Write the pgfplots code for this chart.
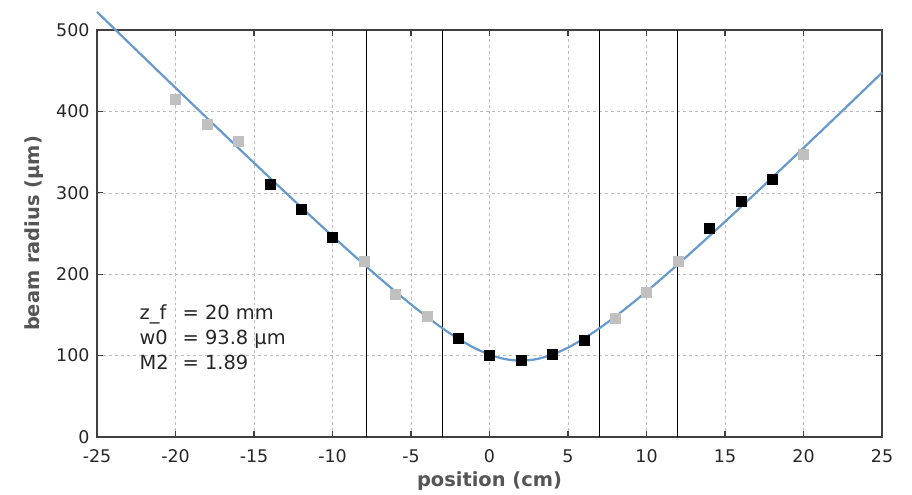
\documentclass[border=0pt]{standalone}
\usepackage{pgfplots}
\pgfplotsset{compat=1.18}
\usepackage{fontspec}
\setmainfont{DejaVu Sans}

\definecolor{fitblue}{HTML}{6699CC}
\definecolor{ptgray}{HTML}{C0C0C0}
\definecolor{gridgray}{HTML}{BBBBBB}
\definecolor{axisgray}{HTML}{404040}
\definecolor{labelgray}{HTML}{555555}

\begin{document}
\begin{tikzpicture}
  \useasboundingbox (-97bp,-58bp) rectangle (815bp,437bp);
  \begin{axis}[
    at={(0,0)}, anchor=south west,
    scale only axis,
    width=785bp, height=407bp,
    xmin=-25, xmax=25, ymin=0, ymax=500,
    xtick={-25,-20,...,25},
    ytick={0,100,...,500},
    grid=major,
    major grid style={gridgray, dashed, line width=0.6pt},
    axis line style={axisgray, line width=1.1pt},
    tick style={axisgray, line width=1.1pt},
    major tick length=6bp,
    tick align=inside,
    clip=false,
    ticklabel style={font=\fontsize{17.5}{20}\selectfont, text=black!85},
    /pgf/number format/assume math mode=true,
    xticklabel style={yshift=-9bp},
    yticklabel style={xshift=-4bp},
    xlabel={position (cm)},
    ylabel={beam radius (µm)},
    label style={font=\fontsize{19.5}{22}\bfseries\selectfont, text=labelgray},
    xlabel style={at={(axis description cs:0.5,-0.108)}, anchor=center},
    ylabel style={at={(axis description cs:-0.080,0.5)}, anchor=center},
  ]
    % measurement windows
    \addplot[black, line width=0.9pt] coordinates {(-7.85,0) (-7.85,500)};
    \addplot[black, line width=0.9pt] coordinates {(-3,0) (-3,500)};
    \addplot[black, line width=0.9pt] coordinates {(7,0) (7,500)};
    \addplot[black, line width=0.9pt] coordinates {(12,0) (12,500)};

    % points outside the windows
    \addplot[only marks, mark=square*, mark size=5bp, color=ptgray] coordinates {
      (-20,415) (-18,384) (-16,364) (-8,216) (-6,175) (-4,149)
      (8,146) (10,178) (12,216) (20,348)
    };
    % points used for the fit
    \addplot[only marks, mark=square*, mark size=5bp, color=black] coordinates {
      (-14,311) (-12,280) (-10,246) (-2,121) (0,101) (2,94) (4,102) (6,119)
      (14,256) (16,290) (18,317)
    };

    % fitted beam caustic
    \addplot[fitblue, line width=2.2pt, smooth] coordinates {
      (-25,522.2) (-24,503.5) (-23,484.8) (-22,466.2) (-21,447.5) (-20,429.0)
      (-19,410.4) (-18,391.9) (-17,373.5) (-16,355.1) (-15,336.8) (-14,318.5)
      (-13,300.4) (-12,282.4) (-11,264.5) (-10,246.8) (-9,229.3) (-8,212.1)
      (-7,195.2) (-6,178.8) (-5,162.9) (-4,147.8) (-3,133.6) (-2,120.8)
      (-1,109.8) (0,101.2) (1,95.7) (2,93.8) (3,95.7) (4,101.2) (5,109.8)
      (6,120.8) (7,133.6) (8,147.8) (9,162.9) (10,178.8) (11,195.2) (12,212.1)
      (13,229.3) (14,246.8) (15,264.5) (16,282.4) (17,300.4) (18,318.5)
      (19,336.8) (20,355.1) (21,373.5) (22,391.9) (23,410.4) (24,429.0)
      (25,447.5)
    };

    \node[anchor=west, align=left, inner sep=0pt,
          font=\fontsize{19.5}{25}\selectfont, text=black!85]
      at (axis cs:-22.3,123)
      {\makebox[43bp][l]{z\_f}= 20 mm\\
       \makebox[43bp][l]{w0}= 93.8 µm\\
       \makebox[43bp][l]{M2}= 1.89};
  \end{axis}
\end{tikzpicture}
\end{document}
